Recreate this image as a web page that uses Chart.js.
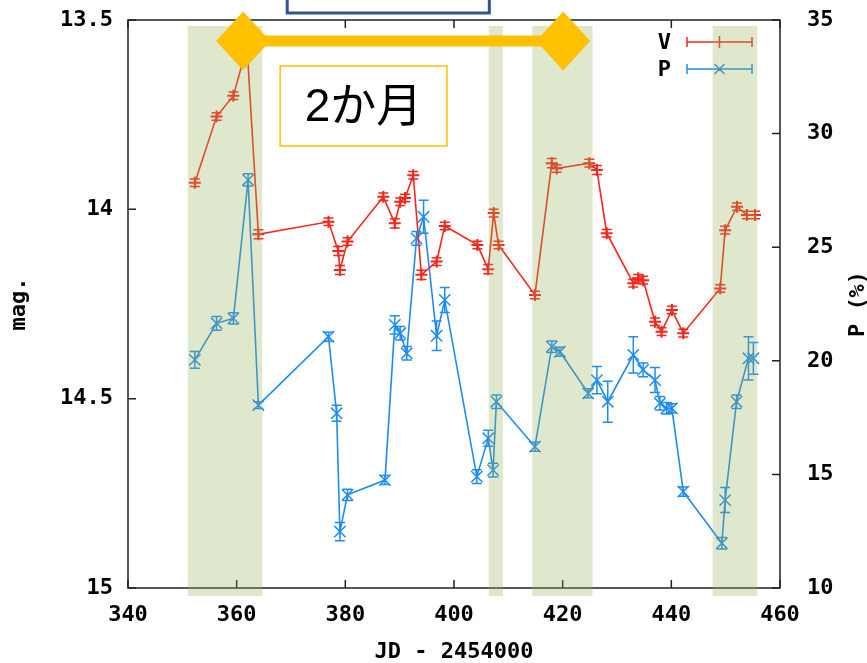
<!DOCTYPE html>
<html>
<head>
<meta charset="utf-8">
<script src="https://cdn.jsdelivr.net/npm/chart.js@4.4.1/dist/chart.umd.min.js"></script>
<style>
  html, body { margin: 0; padding: 0; background: #fff; }
</style>
</head>
<body>
<canvas id="lc" width="867" height="663"></canvas>
<script>
// V magnitude light curve
const jdV  = [352.3, 356.3, 359.4, 361.9, 364.0, 376.9, 378.7, 379.0, 380.4, 387.0,
              389.1, 390.1, 391.0, 392.5, 394.0, 396.8, 398.3, 404.3, 406.3, 407.3,
              408.2, 414.9, 418.0, 418.9, 424.9, 426.3, 428.1, 433.0, 433.9, 434.8,
              437.0, 438.2, 440.1, 442.2, 449.0, 449.9, 452.1, 453.9, 455.4];
const magV = [13.93, 13.755, 13.70, 13.57, 14.066, 14.033, 14.11, 14.16, 14.085, 13.967,
              14.037, 13.98, 13.97, 13.91, 14.173, 14.138, 14.044, 14.094, 14.158, 14.01,
              14.094, 14.226, 13.878, 13.892, 13.878, 13.896, 14.063, 14.195, 14.182, 14.187,
              14.297, 14.323, 14.266, 14.327, 14.209, 14.055, 13.993, 14.015, 14.015];
const errV = [0.01, 0.01, 0.01, 0.01, 0.012, 0.01, 0.012, 0.012, 0.01, 0.01,
              0.012, 0.01, 0.01, 0.01, 0.012, 0.01, 0.01, 0.01, 0.012, 0.01,
              0.01, 0.01, 0.012, 0.01, 0.01, 0.012, 0.01, 0.01, 0.01, 0.01,
              0.01, 0.01, 0.01, 0.01, 0.01, 0.01, 0.01, 0.01, 0.01];

// polarization degree (%)
const jdP  = [352.3, 356.3, 359.4, 362.1, 364.0, 376.9, 378.4, 379.0, 380.4, 387.3,
              389.1, 390.1, 391.3, 393.1, 394.4, 396.8, 398.3, 404.2, 406.3, 407.2,
              407.8, 414.9, 418.0, 419.5, 424.7, 426.3, 428.3, 433.0, 434.8, 437.0,
              437.9, 439.1, 440.1, 442.2, 449.3, 449.9, 452.0, 454.2, 455.1];
const polP = [20.04, 21.65, 21.87, 27.96, 18.05, 21.06, 17.69, 12.48, 14.1, 14.75,
              21.58, 21.21, 20.33, 25.39, 26.34, 21.1, 22.68, 14.9, 16.59, 15.19,
              18.2, 16.22, 20.62, 20.4, 18.57, 19.15, 18.2, 20.26, 19.6, 19.15,
              18.13, 17.91, 17.91, 14.24, 11.97, 13.87, 18.2, 20.11, 20.11];
const errP = [0.37, 0.3, 0.25, 0.27, 0.15, 0.2, 0.35, 0.4, 0.25, 0.2,
              0.4, 0.3, 0.3, 0.3, 0.73, 0.65, 0.55, 0.3, 0.35, 0.3,
              0.3, 0.2, 0.25, 0.2, 0.2, 0.6, 0.9, 0.8, 0.3, 0.55,
              0.3, 0.25, 0.2, 0.2, 0.25, 0.55, 0.3, 0.95, 0.7];

// observing windows (JD - 2454000)
const bandStart = [351.0, 406.4, 414.4, 447.6];
const bandEnd   = [364.7, 409.0, 425.5, 455.8];

const xTicks   = [340, 360, 380, 400, 420, 440, 460];
const magTicks = [13.5, 14, 14.5, 15];
const polTicks = [10, 15, 20, 25, 30, 35];

// two-month span marker
const spanFrom = 361.2;
const spanTo = 420.1;
const spanText = '2か月';

const RED = '#f8261a';
const BLUE = '#1e8cf0';
const monoFont = { family: '"DejaVu Sans Mono", monospace', size: 22, weight: 'bold' };

const toPts = (xs, ys) => xs.map((x, i) => ({ x: x, y: ys[i] }));

const errorBars = {
  id: 'errorBars',
  afterDatasetsDraw(chart) {
    const ctx = chart.ctx, a = chart.chartArea;
    ctx.save();
    ctx.beginPath();
    ctx.rect(a.left, a.top, a.right - a.left, a.bottom - a.top);
    ctx.clip();
    chart.data.datasets.forEach((ds, i) => {
      const meta = chart.getDatasetMeta(i);
      const ys = chart.scales[ds.yAxisID];
      ctx.strokeStyle = ds.borderColor;
      ctx.lineWidth = 1.5;
      ctx.beginPath();
      ds.data.forEach((d, j) => {
        const x = meta.data[j].x;
        const y1 = ys.getPixelForValue(d.y - ds.errors[j]);
        const y2 = ys.getPixelForValue(d.y + ds.errors[j]);
        ctx.moveTo(x, y1); ctx.lineTo(x, y2);
        ctx.moveTo(x - 5, y1); ctx.lineTo(x + 5, y1);
        ctx.moveTo(x - 5, y2); ctx.lineTo(x + 5, y2);
      });
      ctx.stroke();
    });
    ctx.restore();
  }
};

function diamond(ctx, x, y) {
  ctx.beginPath();
  ctx.moveTo(x, y - 29.5);
  ctx.lineTo(x + 27, y);
  ctx.lineTo(x, y + 29.5);
  ctx.lineTo(x - 27, y);
  ctx.closePath();
  ctx.fill();
}

const frame = {
  id: 'frame',
  afterDraw(chart) {
    const ctx = chart.ctx, a = chart.chartArea;
    const sx = chart.scales.x, sy = chart.scales.y, sy2 = chart.scales.y2;
    ctx.save();

    // plot box with inward ticks
    ctx.strokeStyle = '#222';
    ctx.lineWidth = 1.5;
    ctx.strokeRect(a.left, a.top, a.right - a.left, a.bottom - a.top);
    ctx.beginPath();
    xTicks.forEach(v => {
      const x = sx.getPixelForValue(v);
      ctx.moveTo(x, a.bottom); ctx.lineTo(x, a.bottom - 8);
      ctx.moveTo(x, a.top); ctx.lineTo(x, a.top + 8);
    });
    magTicks.forEach(v => {
      const y = sy.getPixelForValue(v);
      ctx.moveTo(a.left, y); ctx.lineTo(a.left + 8, y);
    });
    polTicks.forEach(v => {
      const y = sy2.getPixelForValue(v);
      ctx.moveTo(a.right, y); ctx.lineTo(a.right - 8, y);
    });
    ctx.stroke();

    // right axis title, reading upwards
    ctx.fillStyle = '#000';
    ctx.font = 'bold 22px "DejaVu Sans Mono", monospace';
    ctx.textAlign = 'center';
    ctx.textBaseline = 'middle';
    ctx.save();
    ctx.translate(858, (a.top + a.bottom) / 2);
    ctx.rotate(-Math.PI / 2);
    ctx.fillText('P (%)', 0, 0);
    ctx.restore();

    // legend
    const ds = chart.data.datasets;
    ds.forEach((d, i) => {
      const y = a.top + 22 + i * 27;
      const x0 = a.right - 93, x1 = a.right - 28, xm = (x0 + x1) / 2;
      ctx.fillStyle = '#000';
      ctx.textAlign = 'right';
      ctx.fillText(d.label, a.right - 109, y + 1);
      ctx.strokeStyle = d.borderColor;
      ctx.lineWidth = 1.5;
      ctx.beginPath();
      ctx.moveTo(x0, y); ctx.lineTo(x1, y);
      ctx.moveTo(x0, y - 5); ctx.lineTo(x0, y + 5);
      ctx.moveTo(x1, y - 5); ctx.lineTo(x1, y + 5);
      if (d.pointStyle === 'cross') {
        ctx.moveTo(xm, y - 6); ctx.lineTo(xm, y + 6);
      } else {
        ctx.moveTo(xm - 5, y - 5); ctx.lineTo(xm + 5, y + 5);
        ctx.moveTo(xm - 5, y + 5); ctx.lineTo(xm + 5, y - 5);
      }
      ctx.stroke();
    });

    // shaded observing windows
    ctx.fillStyle = 'rgba(148, 175, 85, 0.3)';
    bandStart.forEach((s, i) => {
      const x0 = sx.getPixelForValue(s), x1 = sx.getPixelForValue(bandEnd[i]);
      ctx.fillRect(x0, a.top + 6, x1 - x0, a.bottom - a.top + 2);
    });

    // header box
    const hx0 = sx.getPixelForValue(369.3), hx1 = sx.getPixelForValue(406.5);
    ctx.fillStyle = '#fff';
    ctx.fillRect(hx0, -10, hx1 - hx0, a.top - 7 + 10);
    ctx.strokeStyle = '#2f5597';
    ctx.lineWidth = 3;
    ctx.strokeRect(hx0, -10, hx1 - hx0, a.top - 7 + 10);

    // span arrow
    const ya = a.top + 21;
    const xa = sx.getPixelForValue(spanFrom), xb = sx.getPixelForValue(spanTo);
    ctx.strokeStyle = '#ffc000';
    ctx.fillStyle = '#ffc000';
    ctx.lineWidth = 11;
    ctx.beginPath();
    ctx.moveTo(xa, ya); ctx.lineTo(xb, ya);
    ctx.stroke();
    diamond(ctx, xa, ya);
    diamond(ctx, xb, ya);

    // span label
    const bx0 = sx.getPixelForValue(368.0), bx1 = sx.getPixelForValue(398.7);
    const by0 = a.top + 46, by1 = a.top + 126;
    ctx.fillStyle = '#fff';
    ctx.fillRect(bx0, by0, bx1 - bx0, by1 - by0);
    ctx.strokeStyle = '#ffc000';
    ctx.lineWidth = 1.5;
    ctx.strokeRect(bx0, by0, bx1 - bx0, by1 - by0);
    ctx.fillStyle = '#000';
    ctx.font = '46px "Liberation Sans", "Noto Sans CJK JP", sans-serif';
    ctx.textAlign = 'center';
    ctx.textBaseline = 'middle';
    ctx.fillText(spanText, (bx0 + bx1) / 2, (by0 + by1) / 2 + 2);

    ctx.restore();
  }
};

// fixed box sizes so the plot area sits at 128..780 x 20..588
function fitY(width) {
  return s => { s.width = width; s.paddingTop = 0; s.paddingBottom = 0; };
}

new Chart(document.getElementById('lc'), {
  type: 'line',
  data: {
    datasets: [
      {
        label: 'V',
        data: toPts(jdV, magV),
        errors: errV,
        yAxisID: 'y',
        borderColor: RED,
        backgroundColor: RED,
        borderWidth: 1.6,
        pointStyle: 'cross',
        pointRadius: 6,
        pointBorderWidth: 2,
        tension: 0
      },
      {
        label: 'P',
        data: toPts(jdP, polP),
        errors: errP,
        yAxisID: 'y2',
        borderColor: BLUE,
        backgroundColor: BLUE,
        borderWidth: 1.6,
        pointStyle: 'crossRot',
        pointRadius: 8,
        pointBorderWidth: 1.5,
        tension: 0
      }
    ]
  },
  options: {
    responsive: false,
    animation: false,
    layout: { padding: { top: 20, left: 0, right: 0, bottom: 0 } },
    plugins: { legend: { display: false }, tooltip: { enabled: false } },
    scales: {
      x: {
        type: 'linear',
        position: 'bottom',
        min: 340,
        max: 460,
        afterBuildTicks: s => { s.ticks = xTicks.map(v => ({ value: v })); },
        afterFit: s => { s.height = 75; s.paddingLeft = 0; s.paddingRight = 0; },
        grid: { display: false, drawTicks: false },
        border: { display: false },
        ticks: { font: monoFont, color: '#000', padding: 14, maxRotation: 0, autoSkip: false },
        title: {
          display: true,
          text: 'JD - 2454000',
          color: '#000',
          font: Object.assign({}, monoFont, { lineHeight: 1 }),
          padding: 0
        }
      },
      y: {
        type: 'linear',
        position: 'left',
        reverse: true,
        min: 13.5,
        max: 15,
        afterBuildTicks: s => { s.ticks = magTicks.map(v => ({ value: v })); },
        afterFit: fitY(128),
        grid: { display: false, drawTicks: false },
        border: { display: false },
        ticks: { font: monoFont, color: '#000', padding: 15, callback: v => String(v) },
        title: {
          display: true,
          text: 'mag.',
          color: '#000',
          font: Object.assign({}, monoFont, { lineHeight: 1 }),
          padding: { top: 8, bottom: 0 }
        }
      },
      y2: {
        type: 'linear',
        position: 'right',
        min: 10,
        max: 35,
        afterBuildTicks: s => { s.ticks = polTicks.map(v => ({ value: v })); },
        afterFit: fitY(87),
        grid: { display: false, drawTicks: false },
        border: { display: false },
        ticks: { font: monoFont, color: '#000', padding: 27, callback: v => String(v) }
      }
    }
  },
  plugins: [errorBars, frame]
});
</script>
</body>
</html>
